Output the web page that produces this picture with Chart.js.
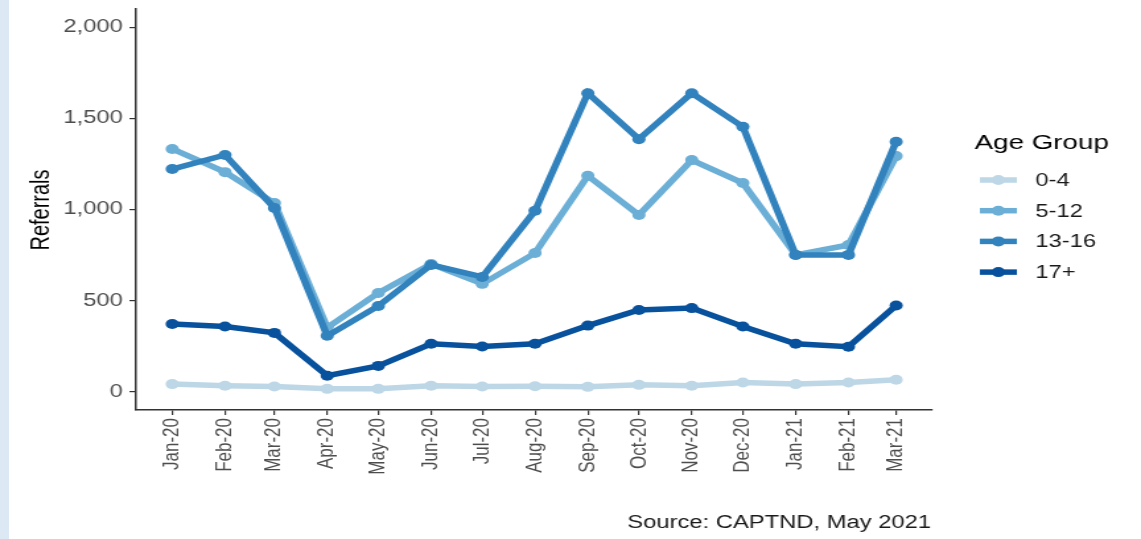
<!DOCTYPE html>
<html>
<head>
<meta charset="utf-8">
<script src="https://cdn.jsdelivr.net/npm/chart.js@4.4.1/dist/chart.umd.min.js"></script>
<style>
    html, body { margin: 0; padding: 0; background: #fff; }
    body { width: 1141px; height: 539px; overflow: hidden; position: relative; }
    #strip { position: absolute; left: 0; top: 0; width: 9px; height: 539px; background: #dde8f5; }
    /* the original picture is stretched sideways, so stretch the canvas the same way */
    #wrap { position: absolute; left: 0; top: 0; width: 864px; height: 539px; transform: scaleX(1.3206); transform-origin: 0 0; }
</style>
</head>
<body>
<div id="wrap"><canvas id="chart" width="864" height="539"></canvas></div>
<div id="strip"></div>
<script>
// Month labels (x axis)
const months = ['Jan-20', 'Feb-20', 'Mar-20', 'Apr-20', 'May-20', 'Jun-20', 'Jul-20', 'Aug-20',
                'Sep-20', 'Oct-20', 'Nov-20', 'Dec-20', 'Jan-21', 'Feb-21', 'Mar-21'];

// Referrals by age group
const groups = ['0-4', '5-12', '13-16', '17+'];
const age0to4   = [42, 33, 29, 16, 16, 33, 29, 30, 27, 38, 33, 51, 42, 51, 66];
const age5to12  = [1332, 1205, 1035, 352, 542, 701, 592, 761, 1185, 970, 1271, 1145, 751, 805, 1293];
const age13to16 = [1222, 1299, 1008, 307, 471, 696, 630, 993, 1638, 1386, 1638, 1454, 751, 751, 1372];
const age17plus = [372, 358, 323, 88, 142, 263, 248, 263, 363, 449, 459, 358, 263, 247, 473];

const yTicks = [0, 500, 1000, 1500, 2000];
const colores = ['#bdd7e7', '#6baed6', '#3182bd', '#08519c'];

// months are placed on a real date axis (days since 1 Jan 2020)
const mesIdx = { Jan: 0, Feb: 1, Mar: 2, Apr: 3, May: 4, Jun: 5, Jul: 6, Aug: 7, Sep: 8, Oct: 9, Nov: 10, Dec: 11 };
const dias = months.map(m => {
    const [mes, anio] = m.split('-');
    return (Date.UTC(2000 + parseInt(anio), mesIdx[mes], 1) - Date.UTC(2020, 0, 1)) / 864e5;
});
const span = dias[dias.length - 1] - dias[0];

const LW = 5.5;
const PR = 5;

const series = [age0to4, age5to12, age13to16, age17plus];
const datasets = series.map((vals, i) => ({
    label: groups[i],
    data: vals.map((v, j) => ({ x: dias[j], y: v })),
    borderColor: colores[i],
    backgroundColor: colores[i],
    borderWidth: LW,
    pointRadius: PR,
    pointBorderWidth: 0,
    tension: 0,
    order: series.length - i
}));

const FONT = '"Liberation Sans", Arial, sans-serif';

const extras = {
    id: 'extras',
    afterDraw(chart) {
        const ctx = chart.ctx;
        ctx.save();

        // y axis title
        ctx.fillStyle = '#000';
        ctx.font = '20px ' + FONT;
        ctx.textAlign = 'center';
        ctx.textBaseline = 'middle';
        ctx.translate(31, 210);
        ctx.rotate(-Math.PI / 2);
        ctx.fillText('Referrals', 0, 0);
        ctx.setTransform(1, 0, 0, 1, 0, 0);

        // legend
        ctx.textAlign = 'left';
        ctx.textBaseline = 'alphabetic';
        ctx.font = '21px ' + FONT;
        ctx.fillStyle = '#000';
        ctx.fillText('Age Group', 738, 149);
        ctx.font = '18px ' + FONT;
        ctx.textBaseline = 'middle';
        chart.data.datasets.forEach((ds, i) => {
            const y = 180 + i * 30.7;
            ctx.strokeStyle = ds.borderColor;
            ctx.lineWidth = LW;
            ctx.beginPath();
            ctx.moveTo(742, y);
            ctx.lineTo(770, y);
            ctx.stroke();
            ctx.fillStyle = ds.borderColor;
            ctx.beginPath();
            ctx.arc(756, y, PR, 0, Math.PI * 2);
            ctx.fill();
            ctx.fillStyle = '#1a1a1a';
            ctx.fillText(ds.label, 784, y + 1);
        });

        // source
        ctx.textAlign = 'right';
        ctx.textBaseline = 'alphabetic';
        ctx.font = '18px ' + FONT;
        ctx.fillStyle = '#1a1a1a';
        ctx.fillText('Source: CAPTND, May 2021', 705, 528);
        ctx.restore();
    }
};

new Chart(document.getElementById('chart'), {
    type: 'line',
    data: { datasets },
    plugins: [extras],
    options: {
        responsive: false,
        animation: false,
        events: [],
        layout: { padding: { left: 7, top: 9, right: 158, bottom: 0 } },
        plugins: {
            legend: { display: false },
            tooltip: { enabled: false }
        },
        scales: {
            x: {
                type: 'linear',
                min: dias[0] - span * 0.05,
                max: dias[dias.length - 1] + span * 0.05,
                afterBuildTicks: s => { s.ticks = dias.map(v => ({ value: v })); },
                afterFit: s => { s.height = 129; s.paddingLeft = 0; s.paddingRight = 0; },
                grid: { drawOnChartArea: false, drawTicks: true, tickLength: 5, color: '#333', lineWidth: 1.2 },
                border: { display: true, color: '#333', width: 1.5 },
                ticks: {
                    autoSkip: false,
                    minRotation: 90,
                    maxRotation: 90,
                    padding: 3,
                    color: '#4d4d4d',
                    font: { family: FONT, size: 17 },
                    callback: (v, i) => months[i]
                }
            },
            y: {
                min: -100,
                max: 2100,
                afterBuildTicks: s => { s.ticks = yTicks.map(v => ({ value: v })); },
                afterFit: s => { s.width = 96; s.paddingTop = 0; s.paddingBottom = 0; },
                grid: { drawOnChartArea: false, drawTicks: true, tickLength: 5, color: '#333', lineWidth: 1.2 },
                border: { display: true, color: '#333', width: 1.5 },
                ticks: {
                    padding: 5,
                    color: '#4d4d4d',
                    font: { family: FONT, size: 18 },
                    callback: v => v.toLocaleString('en-US')
                }
            }
        }
    }
});
</script>
</body>
</html>
